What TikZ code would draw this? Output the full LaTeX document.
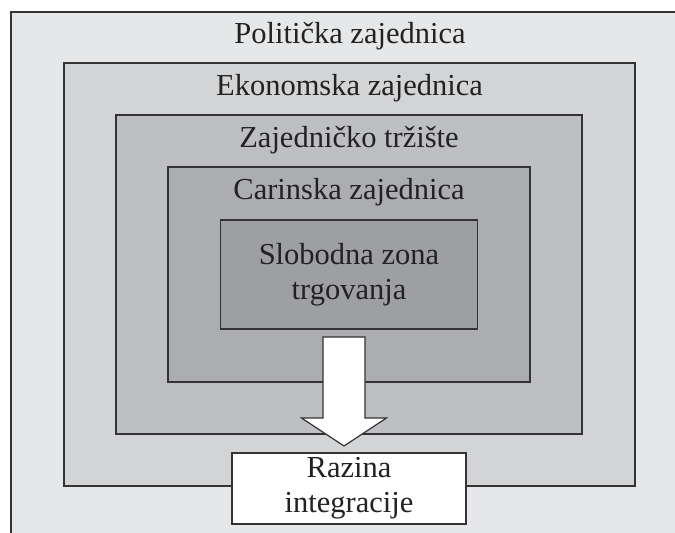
\documentclass[tikz,border=0pt]{standalone}
\usepackage{fontspec}
\setmainfont{Liberation Serif}
\usetikzlibrary{calc}

\definecolor{zoneA}{HTML}{E6E7E8}
\definecolor{zoneB}{HTML}{D3D4D6}
\definecolor{zoneC}{HTML}{BEBFC2}
\definecolor{zoneD}{HTML}{ACADB0}
\definecolor{zoneE}{HTML}{9E9FA2}
\definecolor{edge}{HTML}{333333}
\definecolor{ink}{HTML}{222222}

\tikzset{
  zone/.style={draw=edge, line width=1.3pt, inner sep=0pt, outer sep=0pt},
  zonetext/.style={text=ink, font=\fontsize{30.5}{35}\selectfont, anchor=base, inner sep=0pt},
  bigarrow/.style={draw=edge, fill=white, line width=1.2pt, line join=miter}
}

\begin{document}
\begin{tikzpicture}[x=1pt, y=-1pt]
	  \useasboundingbox (0,0) rectangle (675,533);
	  \clip (0,0) rectangle (675,533);
	  \fill [white] (0,0) rectangle (675,533);

	  \draw [zone, fill=zoneA] (11,12) rectangle (700,560);
	  \node [zone, fill=zoneB, minimum width=571pt, minimum height=423pt] (eko) at (349.5,274.5) {};
	  \node [zone, fill=zoneC, minimum width=466pt, minimum height=319pt] (trziste) at (349,274.5) {};
	  \node [zone, fill=zoneD, minimum width=362pt, minimum height=215pt] (carinska) at (349,274.5) {};
	  \node [zone, fill=zoneE, minimum width=257pt, minimum height=109pt] (slobodna) at (349,274.5) {};

	  \node [zonetext] (politickatxt) at (350,43) {Politička zajednica};
	  \node [zonetext] (ekotxt) at ([yshift=-32pt]eko.north) {Ekonomska zajednica};
	  \node [zonetext] (trzistetxt) at ([yshift=-32pt]trziste.north) {Zajedničko tržište};
	  \node [zonetext] (carinskatxt) at ([yshift=-32pt]carinska.north) {Carinska zajednica};
	  \node [zonetext, anchor=center, align=center] (slobodnatxt) at (slobodna.center) {Slobodna zona\\trgovanja};

	  \node [zone, fill=white, minimum width=234pt, minimum height=71pt] (razina) at (349,488.5) {};
	  \node [zonetext, anchor=center, align=center] (razinatxt) at (razina.center) {Razina\\integracije};

	  \coordinate (arrtop) at ([xshift=-5pt, yshift=-8pt]slobodna.south);
	  \coordinate (arrtip) at ([xshift=-5pt, yshift=7pt]razina.north);
	  \draw [bigarrow] ($(arrtop)+(-21,0)$) -- ($(arrtop)+(21,0)$) -- ++(0,81) -- ++(21.5,0)
	    -- (arrtip) -- ++(-42.5,-28) -- ++(21.5,0) -- cycle;
	\end{tikzpicture}
\end{document}
